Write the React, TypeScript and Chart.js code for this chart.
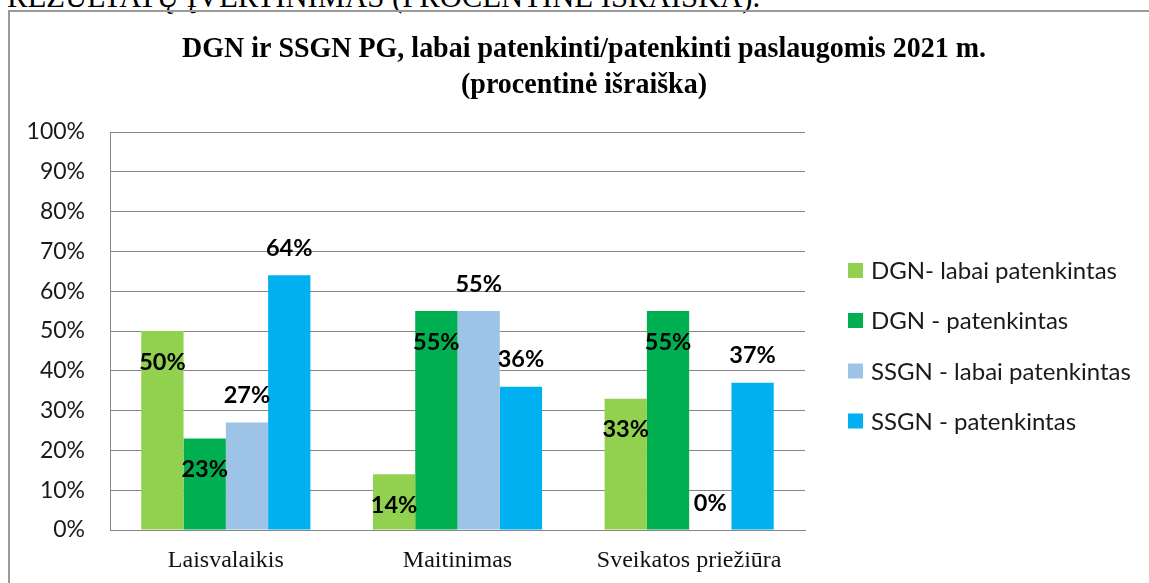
import React, { useEffect, useRef } from "react";
import { Chart, registerables } from "chart.js";

Chart.register(...registerables);

const pageHeading = "REZULTATŲ ĮVERTINIMAS (PROCENTINĖ IŠRAIŠKA).";
const titleLines = [
  "DGN ir SSGN PG, labai patenkinti/patenkinti paslaugomis 2021 m.",
  "(procentinė išraiška)",
];
const categories = ["Laisvalaikis", "Maitinimas", "Sveikatos priežiūra"];
const seriesNames = [
  "DGN- labai patenkintas",
  "DGN - patenkintas",
  "SSGN - labai patenkintas",
  "SSGN - patenkintas",
];
const dgnVerySatisfied = [50, 14, 33];
const dgnSatisfied = [23, 55, 55];
const ssgnVerySatisfied = [27, 55, 0];
const ssgnSatisfied = [64, 36, 37];
const seriesColors = ["#92D050", "#00B050", "#9DC3E6", "#00B0F0"];
const labelInside = [true, true, false, false];
const yMin = 0;
const yMax = 100;
const yStep = 10;

const W = 1149;
const H = 583;
const PLOT = { left: 110, top: 132, right: 805, bottom: 530 };

const titlePlugin = {
  id: "customTitle",
  afterDraw(chart: any) {
    const ctx = chart.ctx;
    ctx.save();
    ctx.fillStyle = "#000";
    ctx.font = "bold 29px 'Liberation Serif'";
    ctx.textAlign = "center";
    ctx.textBaseline = "alphabetic";
    const cx = 584;
    const w1 = ctx.measureText(titleLines[0]).width;
    const sx = 804 / w1;
    const baselines = [57, 93];
    titleLines.forEach((line, i) => {
      ctx.save();
      ctx.translate(cx, baselines[i]);
      ctx.scale(sx, 1);
      ctx.fillText(line, 0, 0);
      ctx.restore();
    });
    ctx.restore();
  },
};

const legendPlugin = {
  id: "customLegend",
  afterDraw(chart: any) {
    const ctx = chart.ctx;
    ctx.save();
    ctx.font = "24px Lato";
    ctx.textBaseline = "middle";
    ctx.textAlign = "left";
    const ys = [270.5, 320.5, 371, 421];
    chart.data.datasets.forEach((ds: any, i: number) => {
      ctx.fillStyle = ds.backgroundColor;
      ctx.fillRect(848, ys[i] - 7.5, 15, 15);
      ctx.fillStyle = "#1a1a1a";
      ctx.fillText(ds.label, 871, ys[i] + 1);
    });
    ctx.restore();
  },
};

const dataLabelPlugin = {
  id: "barLabels",
  afterDatasetsDraw(chart: any) {
    const ctx = chart.ctx;
    ctx.save();
    ctx.font = "bold 23.5px Lato";
    ctx.fillStyle = "#000";
    ctx.textAlign = "center";
    ctx.textBaseline = "middle";
    chart.data.datasets.forEach((ds: any, di: number) => {
      const meta = chart.getDatasetMeta(di);
      meta.data.forEach((el: any, i: number) => {
        const v = ds.data[i];
        const y = labelInside[di] ? el.y + 31 : el.y - 27;
        ctx.fillText(v + "%", el.x, y);
      });
    });
    ctx.restore();
  },
};

export default function App() {
  const ref = useRef<HTMLCanvasElement | null>(null);

  useEffect(() => {
    if (!ref.current) return;
    const values = [dgnVerySatisfied, dgnSatisfied, ssgnVerySatisfied, ssgnSatisfied];
    const chart = new Chart(ref.current, {
      type: "bar",
      data: {
        labels: categories,
        datasets: values.map((d, i) => ({
          label: seriesNames[i],
          data: d,
          backgroundColor: seriesColors[i],
          borderWidth: 0,
          barPercentage: 1,
          categoryPercentage: 0.73,
        })),
      },
      options: {
        responsive: false,
        devicePixelRatio: 1,
        animation: false,
        layout: {
          padding: { left: 0, top: PLOT.top, right: W - PLOT.right, bottom: 0 },
        },
        plugins: {
          legend: { display: false },
          title: { display: false },
          tooltip: { enabled: false },
        },
        scales: {
          x: {
            grid: { display: false, drawTicks: false },
            border: { display: true, color: "#868686", width: 1 },
            ticks: {
              padding: 16,
              color: "#111",
              font: { family: "'Liberation Serif'", size: 24 },
              maxRotation: 0,
            },
            afterFit(scale: any) {
              scale.height = H - PLOT.bottom;
            },
          },
          y: {
            min: yMin,
            max: yMax,
            grid: { color: "#868686", lineWidth: 1, drawTicks: false },
            border: { display: true, color: "#868686", width: 1 },
            ticks: {
              stepSize: yStep,
              padding: 25,
              color: "#1a1a1a",
              font: { family: "Lato", size: 23 },
              callback: (v: any) => v + "%",
            },
            afterFit(scale: any) {
              scale.width = PLOT.left;
            },
          },
        },
      } as any,
      plugins: [titlePlugin, legendPlugin, dataLabelPlugin],
    });
    return () => chart.destroy();
  }, []);

  return (
    <div
      style={{
        position: "absolute",
        left: 0,
        top: 0,
        width: W,
        height: H,
        overflow: "hidden",
        background: "#fff",
      }}
    >
      <div
        style={{
          position: "absolute",
          left: 7,
          top: -18,
          fontFamily: "'Liberation Serif'",
          fontSize: 30.7,
          lineHeight: "30px",
          whiteSpace: "nowrap",
          color: "#000",
        }}
      >
        {pageHeading}
      </div>
      <div
        style={{
          position: "absolute",
          left: 8,
          top: 10,
          width: 1300,
          height: 800,
          border: "2px solid #9a9a9a",
          boxSizing: "border-box",
        }}
      />
      <canvas
        ref={ref}
        width={W}
        height={H}
        style={{ position: "absolute", left: 0, top: 0, width: W, height: H }}
      />
    </div>
  );
}
